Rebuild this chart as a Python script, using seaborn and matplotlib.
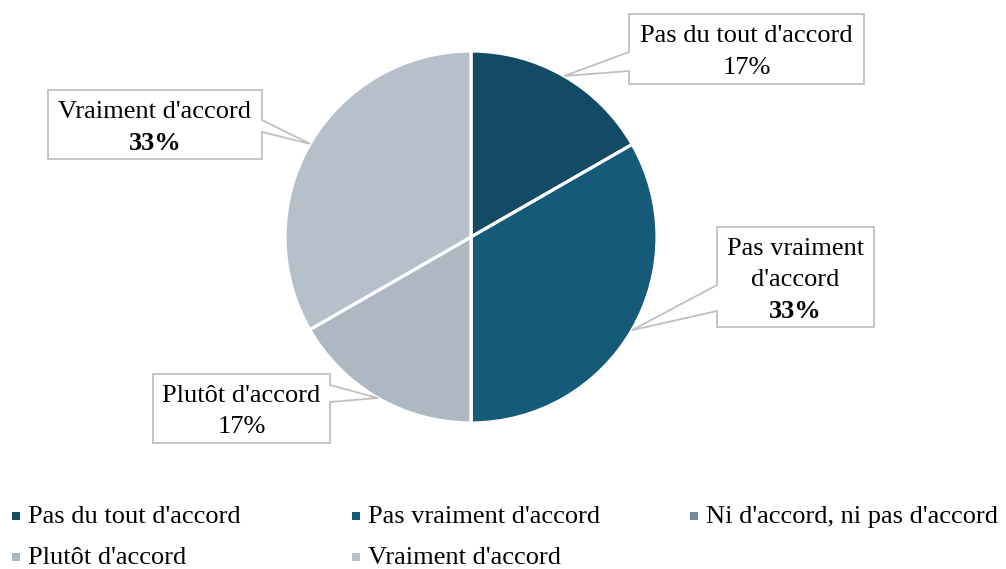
import numpy as np
import matplotlib
matplotlib.use("Agg")
import matplotlib.pyplot as plt
import seaborn as sns
from matplotlib.patches import Polygon, Rectangle

# data
categories = ["Pas du tout d'accord", "Pas vraiment d'accord", "Ni d'accord, ni pas d'accord",
              "Plutôt d'accord", "Vraiment d'accord"]
shares = [16.7, 33.3, 0, 16.7, 33.3]
box_names = ["Pas du tout d'accord", "Pas vraiment\nd'accord", None, "Plutôt d'accord", "Vraiment d'accord"]
bold_pct = [False, True, False, False, True]
colors = ["#134a66", "#165a7a", "#6f8aa0", "#aeb8c3", "#b6c0ca"]

sns.set_theme(style="white")
plt.rcParams['font.family'] = ['Liberation Serif', 'DejaVu Serif']

W, H = 1006, 569
fig = plt.figure(figsize=(W / 100, H / 100), dpi=100)

# pie geometry in pixels
cx, cy, r = 471, 237, 186
ax = fig.add_axes([(cx - r) / W, (H - cy - r) / H, 2 * r / W, 2 * r / H])
ax.pie(shares, colors=colors, startangle=90, counterclock=False, radius=1,
       wedgeprops=dict(edgecolor='white', linewidth=2.3))
ax.set_xlim(-1, 1)
ax.set_ylim(-1, 1)
ax.set_aspect('auto')
ax.axis('off')

# overlay for callouts and legend, pixel coordinates
ov = fig.add_axes([0, 0, 1, 1])
ov.set_xlim(0, W)
ov.set_ylim(H, 0)
ov.axis('off')

# box layout: x0, y0, x1, y1, pointer base y1, pointer base y2
boxes = {
    0: (629, 14, 864, 84, 52, 71),
    1: (717, 227, 874, 327, 285, 311),
    3: (153, 374, 330, 443, 385, 402),
    4: (48, 90, 262, 159, 120, 132),
}
fs = 19
lh = 31.5
edge = "#c0c0c0"

cum = np.cumsum([0] + shares)
total = sum(shares)
for i, (x0, y0, x1, y1, b1, b2) in boxes.items():
    mid = 90 - 360 * (cum[i] + shares[i] / 2) / total
    tx = cx + r * np.cos(np.radians(mid))
    ty = cy - r * np.sin(np.radians(mid))
    if tx < x0:
        pts = [(x0, y0), (x1, y0), (x1, y1), (x0, y1), (x0, b2), (tx, ty), (x0, b1)]
    else:
        pts = [(x0, y0), (x1, y0), (x1, b1), (tx, ty), (x1, b2), (x1, y1), (x0, y1)]
    ov.add_patch(Polygon(pts, closed=True, facecolor='white', edgecolor=edge, linewidth=1.3, zorder=3))
    pct = "{:.0f}%".format(100 * shares[i] / total)
    lines = box_names[i].split('\n') + [pct]
    n = len(lines)
    xc, yc = (x0 + x1) / 2, (y0 + y1) / 2
    for k, line in enumerate(lines):
        weight = 'bold' if (k == n - 1 and bold_pct[i]) else 'normal'
        ov.text(xc, yc + (k - (n - 1) / 2) * lh + 3, line, ha='center', va='center',
                fontsize=fs, fontweight=weight, color='black', zorder=4)

# legend
col_x = [12, 352, 690]
row_y = [516, 557]
for i, name in enumerate(categories):
    x = col_x[i % 3]
    y = row_y[i // 3]
    ov.add_patch(Rectangle((x, y - 4), 8, 8, facecolor=colors[i], edgecolor='none'))
    ov.text(x + 16, y + 1, name, ha='left', va='center', fontsize=fs, color='black')

fig.savefig("out.png", dpi=100, facecolor='white')
